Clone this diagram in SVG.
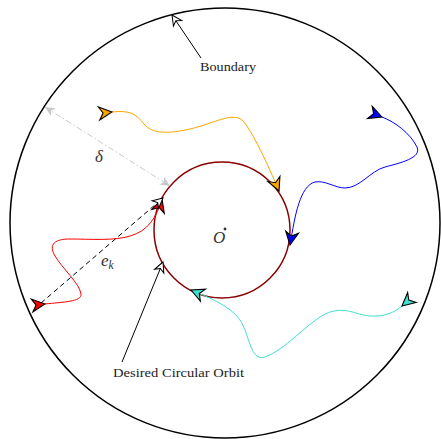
<svg xmlns="http://www.w3.org/2000/svg" width="441" height="439" viewBox="0 0 441 439">
<style>
  .lbl{font-family:"Liberation Serif","DejaVu Serif",serif;fill:#222;}
  .math{font-family:"Liberation Serif","DejaVu Serif",serif;font-style:italic;fill:#333;}
  .traj{fill:none;stroke-width:1;}
  .ptr{fill:none;stroke:#000;stroke-width:1;}
</style>
<defs>
  <marker id="mOrange" viewBox="-15 -8 17 16" markerWidth="17" markerHeight="16" refX="0" refY="0" orient="auto" markerUnits="userSpaceOnUse" overflow="visible"><path d="M0,0 L-13,-6.5 L-9,0 L-13,6.5 Z" fill="#FFA500" stroke="#000" stroke-width="1.1"/></marker>
  <marker id="mBlue" viewBox="-15 -8 17 16" markerWidth="17" markerHeight="16" refX="0" refY="0" orient="auto" markerUnits="userSpaceOnUse" overflow="visible"><path d="M0,0 L-13,-6.5 L-9,0 L-13,6.5 Z" fill="#0000FF" stroke="#000" stroke-width="1.1"/></marker>
  <marker id="mRed" viewBox="-15 -8 17 16" markerWidth="17" markerHeight="16" refX="0" refY="0" orient="auto" markerUnits="userSpaceOnUse" overflow="visible"><path d="M0,0 L-13,-6.5 L-9,0 L-13,6.5 Z" fill="#FF0000" stroke="#000" stroke-width="1.1"/></marker>
  <marker id="mTeal" viewBox="-15 -8 17 16" markerWidth="17" markerHeight="16" refX="0" refY="0" orient="auto" markerUnits="userSpaceOnUse" overflow="visible"><path d="M0,0 L-13,-6.5 L-9,0 L-13,6.5 Z" fill="#40E0D0" stroke="#000" stroke-width="1.1"/></marker>
  <marker id="mOpen" viewBox="-12 -6 14 12" markerWidth="14" markerHeight="12" refX="0" refY="0" orient="auto" markerUnits="userSpaceOnUse" overflow="visible"><path d="M0,0 L-10,-5 L-7,0 L-10,5 Z" fill="#fff" stroke="#000" stroke-width="1"/></marker>
  <marker id="mGray" viewBox="-12 -6 14 12" markerWidth="14" markerHeight="12" refX="0" refY="0" orient="auto-start-reverse" markerUnits="userSpaceOnUse" overflow="visible"><path d="M0,0 L-10,-4.5 L-7,0 L-10,4.5 Z" fill="#c8c8c8" stroke="none"/></marker>
</defs>
<rect width="441" height="439" fill="#fff"/>
<g id="boundary"><circle cx="225" cy="223" r="215" fill="none" stroke="#000" stroke-width="1.5"/></g>
<g id="orbit"><circle cx="222" cy="230" r="68" fill="none" stroke="#8B0000" stroke-width="1.5"/></g>
<g id="center-label">
  <text class="math" x="213" y="243" font-size="17">O</text>
  <circle cx="225" cy="229" r="1.4" fill="#333"/>
</g>
<g id="connectors">
  <path class="traj" stroke="#FFA500" d="M112,112 C130,110 136,114 144,124 C152,134 168,134 190,129 C215,123 232,112 242,120 C252,130 268,165 279,191" marker-start="url(#mOrange)" marker-end="url(#mOrange)"/>
  <path class="traj" stroke="#0000FF" d="M382,117 C395,122 410,133 417,147 C422,158 400,163 385,167 C370,171 360,188 345,188 C335,188 325,180 315,182 C300,186 295,215 290,245" marker-start="url(#mBlue)" marker-end="url(#mBlue)"/>
  <path class="traj" stroke="#40E0D0" d="M402,306 C395,312 385,317 370,316 C355,315 345,305 325,314 C305,325 285,350 265,357 C250,362 250,335 240,320 C230,305 205,296 191,290" marker-start="url(#mTeal)" marker-end="url(#mTeal)"/>
  <path class="traj" stroke="#FF0000" d="M45,304 C62,302 82,302 81,294 C80,284 62,268 55,256 C48,244 55,239 70,239 C90,239 115,241 130,236 C148,231 156,218 162,199" marker-start="url(#mRed)" marker-end="url(#mRed)"/>
  <path class="ptr" d="M41,303 L163,198" stroke-dasharray="5,3.5" marker-end="url(#mOpen)"/>
  <path class="ptr" d="M201,58 L172,15" marker-end="url(#mOpen)"/>
  <path class="ptr" d="M122,362 L163,262" marker-end="url(#mOpen)"/>
  <path d="M45,107 L170,186" fill="none" stroke="#c8c8c8" stroke-width="1" stroke-dasharray="6,2.5,1.5,2.5" marker-start="url(#mGray)" marker-end="url(#mGray)"/>
</g>
<g id="labels">
  <text class="lbl" x="200" y="71" font-size="12" textLength="56" lengthAdjust="spacingAndGlyphs">Boundary</text>
  <text class="lbl" x="113" y="377" font-size="12" textLength="131" lengthAdjust="spacingAndGlyphs">Desired Circular Orbit</text>
  <text class="math" x="95" y="162" font-size="17">δ</text>
  <text class="math" x="101" y="266" font-size="17">e<tspan font-size="11.5" dy="3">k</tspan></text>
</g>
</svg>
